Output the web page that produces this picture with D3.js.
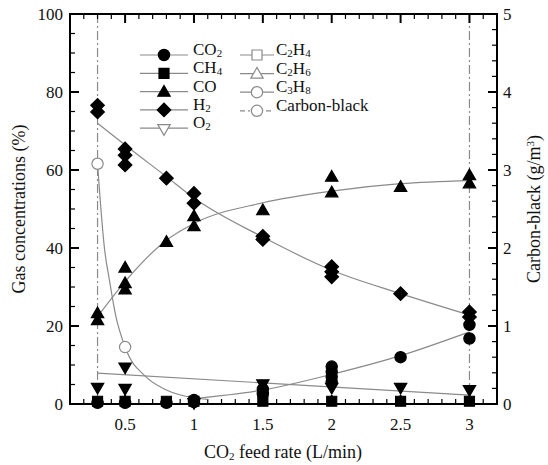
<!DOCTYPE html>
<html>
<head>
<meta charset="utf-8">
<script src="https://cdn.jsdelivr.net/npm/d3@7"></script>
<style>
  html, body { margin: 0; padding: 0; background: #fff; }
</style>
</head>
<body>
<div id="chart"></div>
<script>
// measured points [feed rate, value]
const co2Pts = [[0.3,0.3],[0.5,0.3],[0.8,0.3],[1,1],[1,0.5],[1.5,3.8],[1.5,2.6],[2,9.6],[2,8.3],[2,7],[2,5.7],[2.5,12],[3,20.3],[3,16.8]];
const ch4Pts = [[0.3,0.7],[0.5,0.7],[0.8,0.7],[1,0.7],[1.5,0.7],[2,0.7],[2.5,0.7],[3,0.7]];
const coPts = [[0.3,23.3],[0.3,21.5],[0.5,35],[0.5,31],[0.5,29.4],[0.8,41.6],[1,48.2],[1,45.6],[1.5,49.7],[2,58.3],[2,54.3],[2.5,55.7],[3,58.7],[3,56.6]];
const h2Pts = [[0.3,76.6],[0.3,74.9],[0.5,65.4],[0.5,63.8],[0.5,61.3],[0.8,57.9],[1,54],[1,51.5],[1.5,43],[1.5,42.2],[2,35.2],[2,33.9],[2,32.6],[2.5,28.3],[3,23.6],[3,22.3]];
const o2Pts = [[0.3,4.4],[0.5,9.6],[0.5,4.1],[1,0.5],[1.5,5.3],[2,4.4],[2.5,4.4],[3,3.8]];
const carbonPts = [[0.3,3.08],[0.5,0.73]]; // right axis (g/m3)

// fitted trend lines
const h2Fit = [[0.3,72],[0.5,66.4],[0.8,58.3],[1,52.8],[1.5,42.8],[2,34.3],[2.5,28.3],[3,22.8]];
const coFit = [[0.3,22.4],[0.5,31.4],[0.8,42],[1,46.3],[1.5,51.6],[2,54.6],[2.5,56.5],[3,57.3]];
const co2Fit = [[1,1.4],[1.5,3.6],[2,7.6],[2.5,12.4],[3,18.5]];
const o2Fit = [[0.3,7.9],[3,2.3]];
const carbonFit = [[0.3,3.08],[0.32,2.6],[0.35,2.0],[0.386,1.59],[0.43,1.15],[0.5,0.73],[0.65,0.35],[0.8,0.18],[1,0.08],[1.1,0.06]];

const xTicks = [0.5, 1, 1.5, 2, 2.5, 3];
const yTicks = [0, 20, 40, 60, 80, 100];
const y2Ticks = [0, 1, 2, 3, 4, 5];
const refLines = [0.3, 3];

const legendCol1 = [
  { label: "CO_2", sym: "circle", fill: true },
  { label: "CH_4", sym: "square", fill: true },
  { label: "CO", sym: "triangle", fill: true },
  { label: "H_2", sym: "diamond", fill: true },
  { label: "O_2", sym: "down", fill: false }
];
const legendCol2 = [
  { label: "C_2H_4", sym: "square", fill: false },
  { label: "C_2H_6", sym: "triangle", fill: false },
  { label: "C_3H_8", sym: "circle", fill: false },
  { label: "Carbon-black", sym: "circle", fill: false, dash: true }
];

const W = 548, H = 465;
const pLeft = 70, pRight = 497, pTop = 14, pBottom = 404;
const fs = 18, tickFs = 17, legFs = 17;

const svg = d3.select('#chart').append('svg')
  .attr('width', W).attr('height', H)
  .attr('font-family', '"Liberation Serif", "Times New Roman", Times, serif')
  .attr('fill', '#111');

const x = d3.scaleLinear().domain([0.1, 3.2]).range([pLeft, pRight]);
const y = d3.scaleLinear().domain([0, 100]).range([pBottom, pTop]);
const y2 = d3.scaleLinear().domain([0, 5]).range([pBottom, pTop]);

const gray = '#8a8a8a';
const dashDot = '9,3,2,3';

// symbol generators
const symbols = {
  circle: d3.symbol(d3.symbolCircle, 100),
  square: d3.symbol(d3.symbolSquare, 100),
  triangle: d3.symbol(d3.symbolTriangle, 66),
  down: d3.symbol(d3.symbolTriangle, 66),
  diamond: d3.symbol(d3.symbolSquare, 92)
};
const rot = { down: 180, diamond: 45 };

function addSymbol(g, sym, cx, cy, filled) {
  g.append('path')
    .attr('d', symbols[sym]())
    .attr('transform', `translate(${cx},${cy}) rotate(${rot[sym] || 0})`)
    .attr('fill', filled ? '#000' : '#fff')
    .attr('stroke', filled ? '#000' : gray)
    .attr('stroke-width', 1.2);
}

// text with _ subscripts and ^ superscripts
function richText(sel, str, size) {
  const parts = str.split(/([_^]\d)/).filter(s => s !== '');
  let shift = 0;
  parts.forEach(p => {
    const t = sel.append('tspan');
    if (p[0] === '_' || p[0] === '^') {
      const d = p[0] === '_' ? 2 : -6;
      t.attr('dy', d - shift).style('font-size', Math.round(size * 0.63) + 'px').text(p[1]);
      shift = d;
    } else {
      t.attr('dy', -shift).text(p);
      shift = 0;
    }
  });
}

// reference dash-dot lines
svg.append('g').selectAll('line').data(refLines).join('line')
  .attr('x1', d => x(d)).attr('x2', d => x(d))
  .attr('y1', pTop).attr('y2', pBottom)
  .attr('stroke', gray).attr('stroke-width', 1.2)
  .attr('stroke-dasharray', dashDot);

// ticks (inward, all four sides)
const ax = svg.append('g').attr('stroke', '#000');
d3.range(2, 32).map(i => i / 10).forEach(v => {
  const major = xTicks.some(t => Math.abs(t - v) < 1e-6);
  const len = major ? 9 : 5;
  ax.append('line').attr('x1', x(v)).attr('x2', x(v)).attr('y1', pBottom).attr('y2', pBottom - len).attr('stroke-width', major ? 2 : 1.2);
  ax.append('line').attr('x1', x(v)).attr('x2', x(v)).attr('y1', pTop).attr('y2', pTop + len).attr('stroke-width', major ? 2 : 1.2);
});
d3.range(5, 100, 5).forEach(v => {
  const major = v % 20 === 0;
  const len = major ? 9 : 5;
  ax.append('line').attr('x1', pLeft).attr('x2', pLeft + len).attr('y1', y(v)).attr('y2', y(v)).attr('stroke-width', major ? 2 : 1.2);
});
d3.range(1, 25).map(i => i / 5).forEach(v => {
  const major = Math.abs(v - Math.round(v)) < 1e-6;
  const len = major ? 9 : 5;
  ax.append('line').attr('x1', pRight).attr('x2', pRight - len).attr('y1', y2(v)).attr('y2', y2(v)).attr('stroke-width', major ? 2 : 1.2);
});

// frame
svg.append('rect')
  .attr('x', pLeft).attr('y', pTop)
  .attr('width', pRight - pLeft).attr('height', pBottom - pTop)
  .attr('fill', 'none').attr('stroke', '#000').attr('stroke-width', 2);

// tick labels
svg.append('g').selectAll('text').data(xTicks).join('text')
  .attr('x', d => x(d)).attr('y', 430)
  .attr('text-anchor', 'middle').style('font-size', tickFs + 'px')
  .text(d => String(d));
svg.append('g').selectAll('text').data(yTicks).join('text')
  .attr('x', 63).attr('y', d => y(d)).attr('dy', '0.35em')
  .attr('text-anchor', 'end').style('font-size', tickFs + 'px')
  .text(d => String(d));
svg.append('g').selectAll('text').data(y2Ticks).join('text')
  .attr('x', 503).attr('y', d => y2(d)).attr('dy', '0.35em')
  .attr('text-anchor', 'start').style('font-size', tickFs + 'px')
  .text(d => String(d));

// axis titles
svg.append('text')
  .attr('transform', `translate(25,${(pTop + pBottom) / 2}) rotate(-90)`)
  .attr('text-anchor', 'middle').style('font-size', fs + 'px')
  .text('Gas concentrations (%)');
const r2 = svg.append('text')
  .attr('transform', `translate(540,${(pTop + pBottom) / 2}) rotate(-90)`)
  .attr('text-anchor', 'middle').style('font-size', fs + 'px');
richText(r2, 'Carbon-black (g/m^3)', fs);
const xl = svg.append('text')
  .attr('x', 283).attr('y', 458)
  .attr('text-anchor', 'middle').style('font-size', fs + 'px');
richText(xl, 'CO_2 feed rate (L/min)', fs);

// fitted lines
const line = d3.line().curve(d3.curveMonotoneX).x(d => x(d[0])).y(d => y(d[1]));
const line2 = d3.line().curve(d3.curveMonotoneX).x(d => x(d[0])).y(d => y2(d[1]));
const fits = svg.append('g').attr('fill', 'none').attr('stroke', gray).attr('stroke-width', 1.2);
[h2Fit, coFit, co2Fit, o2Fit].forEach(f => fits.append('path').attr('d', line(f)));
fits.append('path').attr('d', line2(carbonFit));

// markers
const marks = svg.append('g');
ch4Pts.forEach(d => addSymbol(marks, 'square', x(d[0]), y(d[1]), true));
o2Pts.forEach(d => addSymbol(marks, 'down', x(d[0]), y(d[1]), true));
co2Pts.forEach(d => addSymbol(marks, 'circle', x(d[0]), y(d[1]), true));
coPts.forEach(d => addSymbol(marks, 'triangle', x(d[0]), y(d[1]) + 1, true));
h2Pts.forEach(d => addSymbol(marks, 'diamond', x(d[0]), y(d[1]), true));
carbonPts.forEach(d => addSymbol(marks, 'circle', x(d[0]), y2(d[1]), false));

// legend
const leg = svg.append('g');
function legendColumn(items, x0, x1, tx, y0, step) {
  items.forEach((it, i) => {
    const yy = y0 + i * step;
    leg.append('line').attr('x1', x0).attr('x2', x1).attr('y1', yy).attr('y2', yy)
      .attr('stroke', gray).attr('stroke-width', 1.2)
      .attr('stroke-dasharray', it.dash ? '5,3,2,3' : null);
    addSymbol(leg, it.sym, (x0 + x1) / 2, yy + (it.sym === 'triangle' ? 1 : 0), it.fill);
    const t = leg.append('text').attr('x', tx).attr('y', yy).attr('dy', '0.33em').style('font-size', legFs + 'px');
    richText(t, it.label, legFs);
  });
}
legendColumn(legendCol1, 140, 188, 193, 55, 18.3);
legendColumn(legendCol2, 240, 274, 276, 55, 18.6);
</script>
</body>
</html>
